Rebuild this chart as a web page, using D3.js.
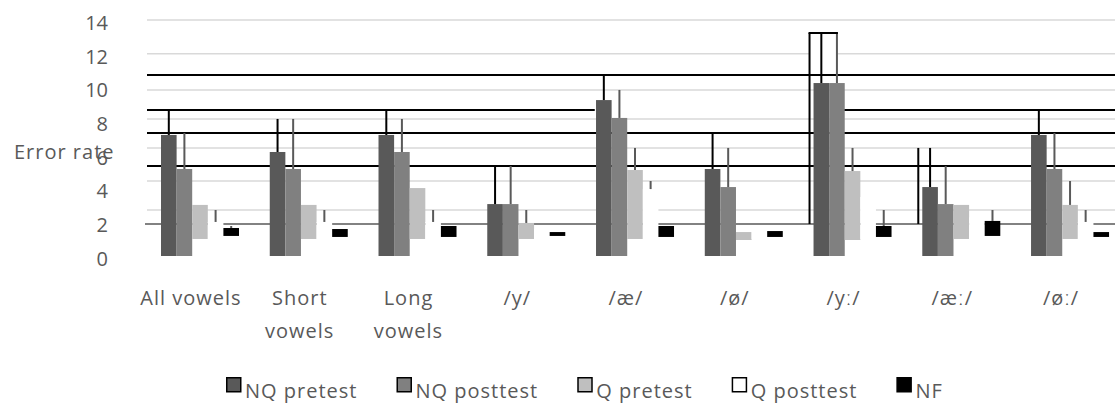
<!DOCTYPE html>
<html>
<head>
<meta charset="utf-8">
<script src="https://cdn.jsdelivr.net/npm/d3@7"></script>
<style>
body { margin: 0; background: #fff; }
text { font-family: "Open Sans", sans-serif; fill: #595959; }
.wide { letter-spacing: 1px; }
</style>
</head>
<body>
<svg id="chart"></svg>
<script>
const categories = ['All vowels', 'Short vowels', 'Long vowels', '/y/', '/æ/', '/ø/', '/yː/', '/æː/', '/øː/'];
const series = ['NQ pretest', 'NQ posttest', 'Q pretest', 'Q posttest', 'NF'];
const yTicks = [0, 2, 4, 6, 8, 10, 12, 14];

// bars standing on 0
const nqPre  = [7.18, 6.17, 7.18, 3.08, 9.25, 5.16, 10.26, 4.09, 7.18];
const nqPost = [5.16, 5.16, 6.17, 3.08, 8.19, 4.09, 10.26, 3.08, 5.16];
// floating bars [low, high]
const qPre  = [[1.01, 3.03], [1.01, 3.03], [1.01, 4.03], [1.01, 1.96], [1.01, 5.10], [0.95, 1.42], [0.95, 5.04], [1.01, 3.03], [1.01, 3.03]];
const qPost = [[1.01, 2.02], [1.01, 2.02], [1.01, 2.02], [1.01, 1.6], [1.01, 3.97], [1.01, 1.6], [1.01, 3.5], [1.01, 2.3], [1.01, 2.02]];
const nf    = [[1.19, 1.66], [1.13, 1.60], [1.13, 1.78], [1.19, 1.42], [1.13, 1.78], [1.13, 1.48], [1.13, 1.78], [1.19, 2.08], [1.13, 1.42]];
// error bar tops (null = none)
const nqPreErr  = [8.66, 8.13, 8.66, 5.34, 10.74, 7.30, 13.23, 6.41, 8.66];
const nqPostErr = [7.30, 8.13, 8.13, 5.34, 9.85, 6.41, 13.23, 5.34, 7.30];
const qPreErr   = [null, null, null, 2.73, 6.41, null, 6.41, null, 4.45];
const qPostErr  = [2.73, 2.73, 2.73, null, 4.45, null, null, null, 2.73];
const nfErr     = [1.78, null, null, null, null, null, 2.73, 2.73, null];

// light grid, dark baseline, heavy black lines (segments in category units)
const gridValues = [14, 12, 9.85, 8.13, 6.41, 4.45, 2.73];
const baseValue = 1.9;
const blackLines = [
  { v: 10.74, segs: [[0, 9]] },
  { v: 8.66, segs: [[0, 4.13], [6.40, 9]] },
  { v: 7.30, segs: [[0, 9]] },
  { v: 5.34, segs: [[0, 9]] }
];
const brackets = [
  { cat: '/yː/', top: 13.23, cap: true },
  { cat: '/æː/', top: 6.41, cap: false }
];

const W = 1118, H = 407;
const plotL = 147, plotR = 1115;
const colors = ['#595959', '#808080', '#bfbfbf', '#ffffff', '#000000'];
const errColors = ['#000', '#595959', '#595959', '#595959', '#595959'];

const svg = d3.select('#chart').attr('width', W).attr('height', H);

const x = d3.scaleBand().domain(categories).range([145.6, 1124.4]);
const x1 = d3.scaleBand().domain(series).range([15.4, 93.4]);
const xu = d3.scaleLinear().domain([0, categories.length]).range(x.range());
const y = d3.scaleLinear().domain([0, 14]).range([256, 20]);

// gridlines
svg.append('g').selectAll('line').data(gridValues).join('line')
  .attr('x1', plotL).attr('x2', plotR)
  .attr('y1', d => y(d)).attr('y2', d => y(d))
  .attr('stroke', '#d9d9d9').attr('stroke-width', 1.5);

// white box behind /yː/ bracket
const bracketX = d => x(d.cat) + x1('NQ pretest') - 4;
const capEnd = d => x(d.cat) + x1('NQ posttest') + x1.bandwidth() / 2;
svg.append('g').selectAll('rect').data(brackets.filter(d => d.cap)).join('rect')
  .attr('x', bracketX)
  .attr('y', d => y(d.top))
  .attr('width', d => capEnd(d) - bracketX(d))
  .attr('height', d => y(nqPre[categories.indexOf(d.cat)]) - y(d.top))
  .attr('fill', '#fff');

// heavy black lines
const segs = blackLines.flatMap(l => l.segs.map(s => ({ v: l.v, a: s[0], b: s[1] })));
svg.append('g').selectAll('line').data(segs).join('line')
  .attr('x1', d => Math.max(plotL, xu(d.a)))
  .attr('x2', d => Math.min(plotR, xu(d.b)))
  .attr('y1', d => y(d.v)).attr('y2', d => y(d.v))
  .attr('stroke', '#000').attr('stroke-width', 2);

// dark baseline
svg.append('line')
  .attr('x1', plotL - 2).attr('x2', plotR)
  .attr('y1', y(baseValue)).attr('y2', y(baseValue))
  .attr('stroke', '#595959').attr('stroke-width', 1.5);

// bars
const barData = [];
categories.forEach((c, i) => {
  barData.push({ c, s: 'NQ pretest', lo: 0, hi: nqPre[i], err: nqPreErr[i] });
  barData.push({ c, s: 'NQ posttest', lo: 0, hi: nqPost[i], err: nqPostErr[i] });
  barData.push({ c, s: 'Q pretest', lo: qPre[i][0], hi: qPre[i][1], err: qPreErr[i] });
  barData.push({ c, s: 'Q posttest', lo: qPost[i][0], hi: qPost[i][1], err: qPostErr[i] });
  barData.push({ c, s: 'NF', lo: nf[i][0], hi: nf[i][1], err: nfErr[i] });
});

svg.append('g').selectAll('rect').data(barData).join('rect')
  .attr('x', d => x(d.c) + x1(d.s))
  .attr('y', d => y(d.hi))
  .attr('width', x1.bandwidth())
  .attr('height', d => y(d.lo) - y(d.hi))
  .attr('fill', d => colors[series.indexOf(d.s)]);

// error bars
svg.append('g').selectAll('line').data(barData.filter(d => d.err != null)).join('line')
  .attr('x1', d => x(d.c) + x1(d.s) + x1.bandwidth() / 2)
  .attr('x2', d => x(d.c) + x1(d.s) + x1.bandwidth() / 2)
  .attr('y1', d => y(d.hi)).attr('y2', d => y(d.err))
  .attr('stroke', d => errColors[series.indexOf(d.s)])
  .attr('stroke-width', 2);

// brackets
const bg = svg.append('g');
bg.selectAll('line.v').data(brackets).join('line').attr('class', 'v')
  .attr('x1', bracketX).attr('x2', bracketX)
  .attr('y1', d => y(d.top)).attr('y2', y(baseValue))
  .attr('stroke', '#000').attr('stroke-width', 2);
bg.selectAll('line.c').data(brackets.filter(d => d.cap)).join('line').attr('class', 'c')
  .attr('x1', d => bracketX(d) - 1).attr('x2', d => capEnd(d) + 1)
  .attr('y1', d => y(d.top)).attr('y2', d => y(d.top))
  .attr('stroke', '#000').attr('stroke-width', 2);

// y axis labels
const yAxis = d3.axisLeft(y).tickValues(yTicks).tickSize(0).tickPadding(3);
const ya = svg.append('g').attr('transform', 'translate(111,3)').call(yAxis);
ya.select('.domain').remove();
ya.selectAll('text').style('font-size', '20px').attr('fill', '#595959')
  .style('font-family', '"Open Sans", sans-serif');

svg.append('text').attr('class', 'wide').attr('x', 14).attr('y', 152).attr('dy', '0.35em')
  .style('font-size', '20px').text('Error rate');

// category labels
const catLines = c => c.includes('vowels') && c !== 'All vowels' ? c.split(' ') : [c];
const cl = svg.append('g').selectAll('text').data(categories).join('text')
  .attr('class', 'wide')
  .attr('text-anchor', 'middle')
  .attr('x', d => x(d) + x.bandwidth() / 2 - 9)
  .attr('y', 305)
  .style('font-size', '20px');
cl.selectAll('tspan').data(d => catLines(d).map(t => ({ t, x: x(d) + x.bandwidth() / 2 - 9 }))).join('tspan')
  .attr('x', d => d.x)
  .attr('dy', (d, i) => i ? 33 : 0)
  .text(d => d.t);

// legend
const lg = svg.append('g');
let lx = 226;
series.forEach((s, i) => {
  lg.append('rect').attr('x', lx + 0.75).attr('y', 377.75).attr('width', 14).attr('height', 14)
    .attr('fill', colors[i]).attr('stroke', '#000').attr('stroke-width', 1.5);
  const t = lg.append('text').attr('class', 'wide').attr('x', lx + 19).attr('y', 398)
    .style('font-size', '20px').text(s);
  lx += 19 + t.node().getComputedTextLength() + 39;
});
</script>
</body>
</html>
